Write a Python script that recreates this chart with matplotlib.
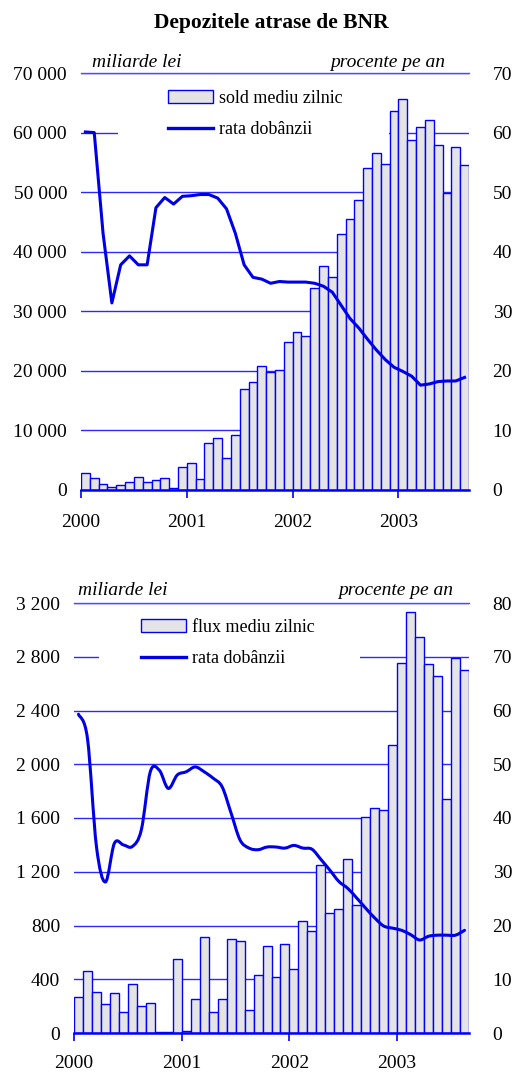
import numpy as np
import matplotlib.pyplot as plt
from matplotlib.patches import Rectangle, PathPatch
from matplotlib.path import Path
from matplotlib.lines import Line2D

plt.rcParams['font.family'] = ['Liberation Serif', 'DejaVu Serif']

# luni: ian. 2000 - aug. 2003
luni = np.arange(44)
ani = ['2000', '2001', '2002', '2003']

# sold mediu zilnic (miliarde lei)
sold = [2800, 1960, 950, 450, 780, 1290, 2130, 1290, 1620, 1960, 280, 3810,
        4480, 1790, 7840, 8680, 5380, 9180, 16900, 18090, 20770, 19880, 20100, 24800,
        26600, 25920, 33870, 37680, 35830, 42950, 45460, 48600, 54030, 56550, 54700, 63600,
        65620, 58730, 60860, 62090, 57890, 49940, 57550, 54480]
# rata dobanzii (procente pe an) - grafic 1
rata_sold = [60.1, 60.0, 43.1, 31.4, 37.8, 39.3, 37.8, 37.8, 47.4, 49.1, 48.0, 49.3,
             49.4, 49.6, 49.6, 49.0, 47.2, 43.1, 37.8, 35.7, 35.4, 34.7, 35.0, 34.9,
             34.9, 34.9, 34.7, 34.2, 33.2, 31.0, 28.8, 27.2, 25.3, 23.5, 21.9, 20.6,
             19.9, 19.1, 17.6, 17.8, 18.2, 18.3, 18.3, 18.9]

# flux mediu zilnic (miliarde lei)
flux = [267, 461, 305, 215, 297, 156, 364, 201, 223, 7, 7, 550,
        15, 253, 713, 156, 253, 698, 684, 171, 431, 651, 416, 661,
        476, 832, 758, 1248, 894, 921, 1293, 951, 1610, 1672, 1657, 2145,
        2754, 3136, 2947, 2747, 2658, 1744, 2794, 2700]
# rata dobanzii (procente pe an) - grafic 2
rata_flux = [59.3, 54.8, 34.7, 28.1, 35.3, 35.0, 34.7, 37.8, 48.6, 48.9, 45.5, 48.0,
             48.6, 49.5, 48.6, 47.4, 45.8, 40.9, 35.9, 34.4, 34.1, 34.6, 34.6, 34.4,
             34.9, 34.4, 34.2, 32.3, 30.3, 28.2, 26.9, 25.1, 23.2, 21.4, 19.9, 19.5,
             19.1, 18.3, 17.3, 18.0, 18.2, 18.2, 18.2, 19.1]

albastru = '#0000ff'
gri = '#e4e4e4'


def fmt_mii(v):
    return f"{v:,.0f}".replace(',', ' ')


def smooth_path(xs, ys):
    # curba neteda de tip Catmull-Rom (ca in Excel) prin punctele date
    pts = np.column_stack([xs, ys])
    verts = [pts[0]]
    codes = [Path.MOVETO]
    n = len(pts)
    for i in range(n - 1):
        p0 = pts[max(i - 1, 0)]
        p1 = pts[i]
        p2 = pts[i + 1]
        p3 = pts[min(i + 2, n - 1)]
        c1 = p1 + (p2 - p0) / 6
        c2 = p2 - (p3 - p1) / 6
        verts += [c1, c2, p2]
        codes += [Path.CURVE4] * 3
    return Path(verts, codes)


def panel(rect, bars, rate, ymax, ystep, rmax, rstep, bar_label, smooth,
          gap, leg_pos, lpad, rpad, xpad):
    ax = fig.add_axes(rect)
    ax.set_axisbelow(True)
    ax.bar(luni, bars, width=1.0, align='edge', color=gri,
           edgecolor=albastru, linewidth=1.0, zorder=2)
    ax.set_xlim(0, 44)
    ax.set_ylim(0, ymax)
    yt = np.arange(0, ymax + 1, ystep)
    ax.set_yticks(yt)
    ax.set_yticklabels([fmt_mii(v) for v in yt], fontsize=14)
    ax.tick_params(axis='y', length=0, pad=lpad)
    ax.set_xticks([0, 12, 24, 36])
    ax.set_xticklabels(ani, fontsize=14)
    ax.tick_params(axis='x', length=6, width=1.2, color=albastru,
                   direction='out', pad=xpad)
    ax.yaxis.grid(True, color='#2a2aff', linewidth=1.0)
    for s in ['left', 'right']:
        ax.spines[s].set_visible(False)
    ax.spines['top'].set_color('#4d4df0')
    ax.spines['top'].set_linewidth(1.0)
    ax.spines['bottom'].set_color(albastru)
    ax.spines['bottom'].set_linewidth(1.8)
    # fundalul alb al legendei ascunde o parte din linia de grila
    ax.add_patch(Rectangle((gap[0], gap[2]), gap[1] - gap[0], gap[3] - gap[2],
                           facecolor='white', edgecolor='none', zorder=1))

    ax2 = ax.twinx()
    ax2.set_ylim(0, rmax)
    rt = np.arange(0, rmax + 1, rstep)
    ax2.set_yticks(rt)
    ax2.set_yticklabels([str(v) for v in rt], fontsize=14)
    ax2.tick_params(axis='y', length=0, pad=rpad)
    for s in ax2.spines.values():
        s.set_visible(False)
    xs = luni + 0.5
    if smooth:
        ax2.add_patch(PathPatch(smooth_path(xs, rate), fill=False,
                                edgecolor='#0000e6', linewidth=2.2,
                                capstyle='round', joinstyle='round'))
    else:
        ax2.plot(xs, rate, color='#0000e6', linewidth=2.2,
                 solid_joinstyle='round')

    handles = [Rectangle((0, 0), 1, 1, facecolor=gri, edgecolor=albastru,
                         linewidth=1.0),
               Line2D([0], [0], color='#0000e6', linewidth=2.4)]
    fig.legend(handles, [bar_label, 'rata dobânzii'], loc='upper left',
               bbox_to_anchor=leg_pos, frameon=False, fontsize=13,
               handlelength=2.5, handleheight=0.7, handletextpad=0.3,
               labelspacing=0.78, borderpad=0, borderaxespad=0)
    return ax


W, H = 515, 1073
fig = plt.figure(figsize=(W / 100, H / 100), dpi=100)


def fx(px):
    return px / W


def fy(py):
    return 1 - py / H


fig.text(fx(271), fy(28), 'Depozitele atrase de BNR', fontsize=15.5,
         fontweight='bold', ha='center', va='baseline')

# grafic 1
panel([fx(81), fy(490), fx(469) - fx(81), fy(73) - fy(490)],
      sold, rata_sold, 70000, 10000, 70, 10, 'sold mediu zilnic', False,
      (4.2, 34.9, 55000, 67000), (fx(168), fy(90)), 10, 17, 11)
fig.text(fx(92), fy(67), 'miliarde lei', fontsize=14, style='italic',
         ha='left', va='baseline')
fig.text(fx(445), fy(67), 'procente pe an', fontsize=14, style='italic',
         ha='right', va='baseline')

# grafic 2
panel([fx(74), fy(1033), fx(469) - fx(74), fy(603) - fy(1033)],
      flux, rata_flux, 3200, 400, 80, 10, 'flux mediu zilnic', True,
      (2.8, 31.9, 2600, 3100), (fx(141), fy(619)), 10, 17, 10)
fig.text(fx(78), fy(595), 'miliarde lei', fontsize=14, style='italic',
         ha='left', va='baseline')
fig.text(fx(453), fy(595), 'procente pe an', fontsize=14, style='italic',
         ha='right', va='baseline')

fig.savefig('out.png', dpi=100)
